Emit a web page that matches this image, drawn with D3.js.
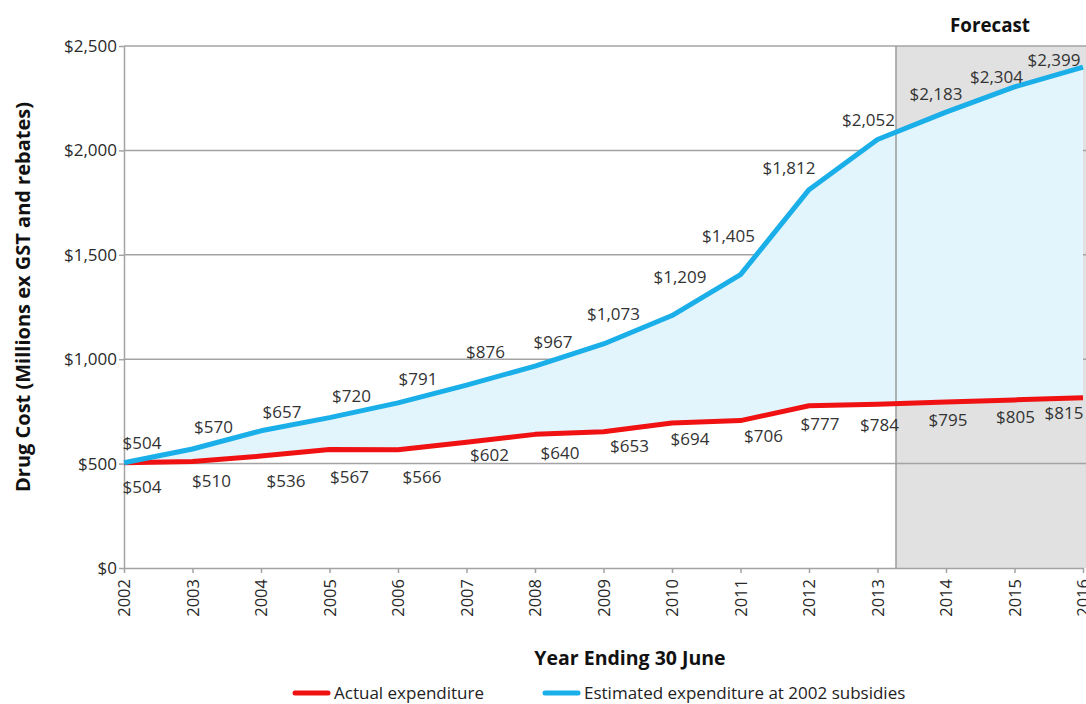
<!DOCTYPE html>
<html>
<head>
<meta charset="utf-8">
<script src="https://cdn.jsdelivr.net/npm/d3@7/dist/d3.min.js"></script>
<style>
  html, body { margin: 0; padding: 0; background: #fff; }
  svg { display: block; font-family: "Open Sans", "Noto Sans", sans-serif; }
</style>
</head>
<body>
<svg id="chart" width="1086" height="704"></svg>
<script>
// Years ending 30 June
const years = [2002, 2003, 2004, 2005, 2006, 2007, 2008, 2009, 2010, 2011, 2012, 2013, 2014, 2015, 2016];
// Drug cost, $ millions ex GST and rebates
const actual = [504, 510, 536, 567, 566, 602, 640, 653, 694, 706, 777, 784, 795, 805, 815];
const estimated = [504, 570, 657, 720, 791, 876, 967, 1073, 1209, 1405, 1812, 2052, 2183, 2304, 2399];
const yTicks = [0, 500, 1000, 1500, 2000, 2500];
const forecastFrom = 2013.27;

// Label nudges (px) away from each point so values sit clear of the lines
const estLabelNudge = [[18,-20],[21,-22],[21,-19],[22,-22],[20,-24],[19,-34],[18,-25],[10,-30],[8,-39],[-12,-39],[-20,-22],[-9,-20],[-10,-19],[-18,-10],[-29,-8]];
const actLabelNudge = [[18,24],[19,19],[25,24],[20,27],[24,27],[23,12],[25,18],[26,14],[18,15],[23,15],[11,18],[2,20],[2,17],[1,17],[-19,15]];

const svg = d3.select("#chart");
const plotLeft = 124, plotRight = 1083, plotTop = 46, plotBottom = 568;

const x = d3.scaleLinear().domain([2002, 2016]).range([plotLeft, plotRight]);
const y = d3.scaleLinear().domain([0, 2500]).range([plotBottom, plotTop]);

const money = d => "$" + d3.format(",")(d);
const gridColor = "#a3a3a3";

// Forecast shading
svg.append("rect")
  .attr("x", x(forecastFrom)).attr("y", plotTop)
  .attr("width", plotRight - x(forecastFrom) + 3).attr("height", plotBottom - plotTop)
  .attr("fill", "#e1e1e1");

// Horizontal gridlines
svg.append("g").selectAll("line")
  .data(yTicks.filter(d => d > 0))
  .join("line")
  .attr("x1", plotLeft).attr("x2", plotRight + 3)
  .attr("y1", d => y(d)).attr("y2", d => y(d))
  .attr("stroke", gridColor).attr("stroke-width", 1.5);

// Gap between estimated and actual spending
const gap = d3.area()
  .x((d, i) => x(years[i]))
  .y0((d, i) => y(actual[i]))
  .y1((d, i) => y(estimated[i]));
svg.append("path")
  .datum(years)
  .attr("d", gap)
  .attr("fill", "#e2f4fc");

// Forecast boundary
svg.append("line")
  .attr("x1", x(forecastFrom)).attr("x2", x(forecastFrom))
  .attr("y1", plotTop).attr("y2", plotBottom)
  .attr("stroke", "#9c9c9c").attr("stroke-width", 1.5);

// Axes
const yAxis = svg.append("g")
  .attr("transform", `translate(${plotLeft},0)`)
  .call(d3.axisLeft(y).tickValues(yTicks).tickFormat(money).tickSize(5).tickSizeOuter(0));
yAxis.select(".domain").attr("stroke", gridColor).attr("stroke-width", 1.5);
yAxis.selectAll(".tick line").attr("stroke", gridColor).attr("stroke-width", 1.5);
yAxis.selectAll(".tick text")
  .attr("x", -7)
  .attr("font-size", 17).attr("fill", "#2a2a2a")
  .attr("font-family", "\"Open Sans\", sans-serif");

const xAxis = svg.append("g")
  .attr("transform", `translate(0,${plotBottom})`)
  .call(d3.axisBottom(x).tickValues(years).tickFormat(d3.format("d")).tickSize(5).tickSizeOuter(0));
xAxis.select(".domain").attr("stroke", gridColor).attr("stroke-width", 1.5);
xAxis.selectAll(".tick line").attr("stroke", gridColor).attr("stroke-width", 1.5);
xAxis.selectAll(".tick text")
  .attr("transform", "rotate(-90)")
  .attr("x", -11).attr("y", 0).attr("dy", "0.35em")
  .attr("text-anchor", "end")
  .attr("font-size", 16.5).attr("fill", "#2a2a2a")
  .attr("font-family", "\"Open Sans\", sans-serif");

// Lines
const lineOf = vals => d3.line().x((d, i) => x(years[i])).y((d, i) => y(vals[i]));
svg.append("path").datum(years).attr("d", lineOf(actual))
  .attr("fill", "none").attr("stroke", "#f01212").attr("stroke-width", 5)
  .attr("stroke-linejoin", "round");
svg.append("path").datum(years).attr("d", lineOf(estimated))
  .attr("fill", "none").attr("stroke", "#1aafe8").attr("stroke-width", 5)
  .attr("stroke-linejoin", "round");

// Value labels
function valueLabels(vals, nudge) {
  svg.append("g").selectAll("text")
    .data(vals)
    .join("text")
    .attr("x", (d, i) => x(years[i]) + nudge[i][0])
    .attr("y", (d, i) => y(d) + nudge[i][1])
    .attr("text-anchor", "middle")
    .attr("dominant-baseline", "central")
    .attr("font-size", 17)
    .attr("fill", "#333")
    .text(money);
}
valueLabels(estimated, estLabelNudge);
valueLabels(actual, actLabelNudge);

// Titles
svg.append("text")
  .attr("x", 990).attr("y", 25)
  .attr("text-anchor", "middle").attr("dominant-baseline", "central")
  .attr("font-size", 18.8).attr("font-weight", "bold").attr("fill", "#111")
  .text("Forecast");

svg.append("text")
  .attr("transform", "translate(22,297) rotate(-90)")
  .attr("text-anchor", "middle").attr("dominant-baseline", "central")
  .attr("font-size", 20).attr("font-weight", "bold").attr("fill", "#111")
  .text("Drug Cost (Millions ex GST and rebates)");

svg.append("text")
  .attr("x", 630).attr("y", 657)
  .attr("text-anchor", "middle").attr("dominant-baseline", "central")
  .attr("font-size", 19.5).attr("font-weight", "bold").attr("fill", "#111")
  .text("Year Ending 30 June");

// Legend
const legend = [
  { label: "Actual expenditure", color: "#f01212", x: 295 },
  { label: "Estimated expenditure at 2002 subsidies", color: "#1aafe8", x: 545 }
];
const lg = svg.append("g").selectAll("g").data(legend).join("g")
  .attr("transform", d => `translate(${d.x},692)`);
lg.append("line").attr("x1", 0).attr("x2", 33).attr("y1", 1).attr("y2", 1)
  .attr("stroke", d => d.color).attr("stroke-width", 5).attr("stroke-linecap", "round");
lg.append("text").attr("x", 39).attr("y", 0).attr("dominant-baseline", "central")
  .attr("font-size", 17).attr("fill", "#222")
  .text(d => d.label);
</script>
</body>
</html>
